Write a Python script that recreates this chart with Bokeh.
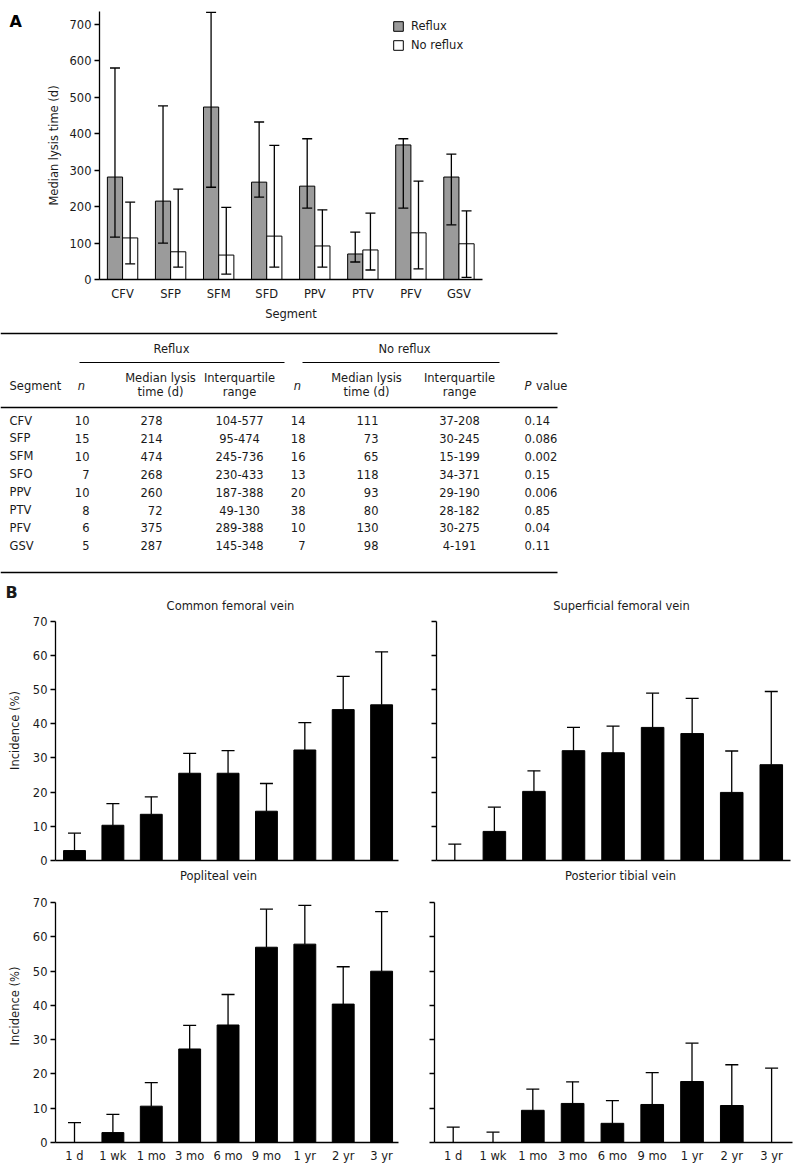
import numpy as np
from bokeh.plotting import figure
from bokeh.models import (ColumnDataSource, Range1d, FixedTicker, Whisker, TeeHead,
                          Label, Legend, LegendItem)
from bokeh.layouts import column, row
from bokeh.embed import file_html
from bokeh.resources import INLINE
from bokeh.core.properties import value

FONT = "DejaVu Sans"
TXT = "#1a1a1a"
FS = "11.5px"

# ---------------- Panel A data ----------------
segments = ["CFV", "SFP", "SFM", "SFD", "PPV", "PTV", "PFV", "GSV"]
reflux_median = [281, 215, 473, 267, 256, 70, 369, 281]
reflux_q1 = [116, 100, 253, 226, 196, 48, 196, 150]
reflux_q3 = [580, 476, 733, 432, 386, 130, 386, 344]
noreflux_median = [114, 76, 67, 119, 92, 81, 128, 98]
noreflux_q1 = [43, 34, 15, 34, 34, 26, 29, 6]
noreflux_q3 = [212, 248, 198, 368, 191, 182, 270, 188]
a_yticks = [0, 100, 200, 300, 400, 500, 600, 700]

# ---------------- Table data ----------------
tab_seg = ["CFV", "SFP", "SFM", "SFO", "PPV", "PTV", "PFV", "GSV"]
tab_n_r = ["10", "15", "10", "7", "10", "8", "6", "5"]
tab_med_r = ["278", "214", "474", "268", "260", "72", "375", "287"]
tab_iqr_r = ["104-577", "95-474", "245-736", "230-433", "187-388", "49-130", "289-388", "145-348"]
tab_n_nr = ["14", "18", "16", "13", "20", "38", "10", "7"]
tab_med_nr = ["111", "73", "65", "118", "93", "80", "130", "98"]
tab_iqr_nr = ["37-208", "30-245", "15-199", "34-371", "29-190", "28-182", "30-275", "4-191"]
tab_p = ["0.14", "0.086", "0.002", "0.15", "0.006", "0.85", "0.04", "0.11"]

# ---------------- Panel B data ----------------
time_labels = ["1 d", "1 wk", "1 mo", "3 mo", "6 mo", "9 mo", "1 yr", "2 yr", "3 yr"]
cfv_inc = [2.9, 10.3, 13.5, 25.5, 25.5, 14.4, 32.3, 44.1, 45.5]
cfv_err = [8.0, 16.6, 18.6, 31.3, 32.1, 22.5, 40.3, 53.8, 61.0]
sfv_inc = [0, 8.5, 20.2, 32.1, 31.5, 38.9, 37.1, 19.9, 28.0]
sfv_err = [4.8, 15.6, 26.2, 38.9, 39.3, 48.9, 47.4, 32.0, 49.4]
pop_inc = [0, 2.9, 10.6, 27.3, 34.3, 57.0, 57.9, 40.4, 50.0]
pop_err = [5.8, 8.2, 17.5, 34.2, 43.2, 68.1, 69.2, 51.3, 67.4]
ptv_inc = [0, 0, 9.4, 11.4, 5.6, 11.1, 17.8, 10.8, 0]
ptv_err = [4.5, 3.0, 15.6, 17.7, 12.2, 20.4, 29.0, 22.7, 21.7]
b_yticks = [0, 10, 20, 30, 40, 50, 60, 70]
B_YMAX = 70


def base_fig(w, h, xr, yr, ml, mr, mt, mb):
    p = figure(width=w, height=h, x_range=Range1d(*xr), y_range=Range1d(*yr),
               min_border_left=ml, min_border_right=mr, min_border_top=mt,
               min_border_bottom=mb, output_backend="svg", toolbar_location=None)
    p.outline_line_color = None
    p.xgrid.visible = False
    p.ygrid.visible = False
    p.background_fill_color = "white"
    p.border_fill_color = "white"
    for ax in (p.xaxis[0], p.yaxis[0]):
        ax.axis_line_color = "black"
        ax.axis_line_width = 1.3
        ax.major_tick_line_color = "black"
        ax.major_tick_line_width = 1.3
        ax.minor_tick_line_color = None
        ax.major_tick_in = 0
        ax.major_label_text_font = FONT
        ax.major_label_text_font_size = FS
        ax.major_label_text_color = TXT
        ax.axis_label_text_font = FONT
        ax.axis_label_text_font_size = FS
        ax.axis_label_text_font_style = "normal"
        ax.axis_label_text_color = TXT
    return p


def blank_fig(w, h, xr, yr, mt=0, mb=0):
    p = figure(width=w, height=h, x_range=Range1d(*xr), y_range=Range1d(*yr),
               min_border_left=0, min_border_right=0, min_border_top=mt,
               min_border_bottom=mb, output_backend="svg", toolbar_location=None,
               x_axis_type=None, y_axis_type=None)
    p.outline_line_color = None
    p.xgrid.visible = False
    p.ygrid.visible = False
    return p


# ======================= Panel A chart =======================
AH = 330
A_ML, A_MR, A_MT, A_MB = 59, 316, 11, 51
pA = base_fig(758, AH, (-0.48, 7.49), (0, 735), A_ML, A_MR, A_MT, A_MB)

idx = np.arange(len(segments))
bw = 0.316
srcA = ColumnDataSource(dict(
    xr=idx - bw / 2, xn=idx + bw / 2,
    rm=reflux_median, rq1=reflux_q1, rq3=reflux_q3,
    nm=noreflux_median, nq1=noreflux_q1, nq3=noreflux_q3))

r1 = pA.vbar(x="xr", top="rm", width=bw, bottom=0, source=srcA,
             fill_color="#9b9b9b", line_color="black", line_width=1)
r2 = pA.vbar(x="xn", top="nm", width=bw, bottom=0, source=srcA,
             fill_color="white", line_color="black", line_width=1)
for base, lo, hi in (("xr", "rq1", "rq3"), ("xn", "nq1", "nq3")):
    pA.add_layout(Whisker(source=srcA, base=base, lower=lo, upper=hi, line_width=1.3,
                          line_color="black", level="overlay",
                          upper_head=TeeHead(size=10, line_width=1.3, line_color="black"),
                          lower_head=TeeHead(size=10, line_width=1.3, line_color="black")))

pA.xaxis.ticker = FixedTicker(ticks=list(idx))
pA.xaxis.major_label_overrides = {int(i): s for i, s in zip(idx, segments)}
pA.xaxis.major_tick_out = 0
pA.xaxis.major_label_standoff = 7
pA.xaxis.axis_label = "Segment"
pA.xaxis.axis_label_standoff = 3
pA.yaxis.ticker = FixedTicker(ticks=a_yticks)
pA.yaxis.major_tick_out = 5
pA.yaxis.major_label_standoff = 3
pA.yaxis.axis_label = "Median lysis time (d)"
pA.yaxis.axis_label_standoff = 6

leg = Legend(items=[LegendItem(label="Reflux", renderers=[r1]),
                    LegendItem(label="No reflux", renderers=[r2])],
             location=(293, 227), border_line_color=None, background_fill_alpha=0,
             padding=0, margin=0, spacing=5, glyph_width=12, glyph_height=12,
             label_height=12, label_standoff=7, label_text_font=FONT,
             label_text_font_size=FS, label_text_color=TXT)
pA.add_layout(leg)

# panel letter "A" (page-pixel coordinates)
pLA = blank_fig(40, AH, (0, 40), (AH - A_MB, A_MT), mt=A_MT, mb=A_MB)
pLA.text(x=[9], y=[21], text=["A"], text_font=value(FONT), text_font_size="16px",
         text_font_style="bold", text_color="black", text_align="left",
         text_baseline="middle")

# ======================= Table (page-pixel coordinates) =======================
T_TOP, T_BOT = 330, 600
pT = blank_fig(798, T_BOT - T_TOP, (0, 798), (T_BOT, T_TOP))

pT.segment(x0=[0, 0, 0], x1=[557, 557, 557], y0=[333, 407, 572], y1=[333, 407, 572],
           line_color="black", line_width=1.4)
pT.segment(x0=[79, 302], x1=[284, 499], y0=[362, 362], y1=[362, 362],
           line_color="black", line_width=1.1)


def ttext(x, y, txt, align="center", style="normal", size=FS):
    pT.text(x=x, y=y, text=txt, text_font=value(FONT), text_font_size=size,
            text_color=TXT, text_align=align, text_baseline="middle",
            text_font_style=style)


ttext([171, 404], [348, 348], ["Reflux", "No reflux"])
ttext([9], [385], ["Segment"], align="left")
ttext([81, 297], [385, 385], ["n", "n"], style="italic")
ttext([160, 239, 366, 459], [377] * 4,
      ["Median lysis", "Interquartile", "Median lysis", "Interquartile"])
ttext([160, 239, 366, 459], [391] * 4, ["time (d)", "range", "time (d)", "range"])
ttext([524], [385], ["P"], align="left", style="italic")
ttext([535.5], [385], ["value"], align="left")

row_y = [420 + 17.9 * i for i in range(len(tab_seg))]
ttext([9] * 8, row_y, tab_seg, align="left")
ttext([89] * 8, row_y, tab_n_r, align="right")
ttext([162] * 8, row_y, tab_med_r, align="right")
ttext([239] * 8, row_y, tab_iqr_r)
ttext([305] * 8, row_y, tab_n_nr, align="right")
ttext([378] * 8, row_y, tab_med_nr, align="right")
ttext([459] * 8, row_y, tab_iqr_nr)
ttext([524] * 8, row_y, tab_p, align="left")

# panel letter "B"
ttext([5], [591.5], ["B"], align="left", style="bold", size="16px")


# ======================= Panel B =======================
def bar_panel(title, inc, err, w, h, xr, ml, mr, mb, px70, ylabels, xlabels,
              title_px, title_py):
    # frame starts at the figure top; y range extended so the title sits in the frame
    fh = h - mb
    per = (fh - px70) / B_YMAX            # pixels per unit
    ytop = fh / per
    p = base_fig(w, h, xr, (0, ytop), ml, mr, 0, mb)
    fw = w - ml - mr
    xs = np.arange(len(time_labels))
    src = ColumnDataSource(dict(x=xs, top=inc, err=err))
    p.vbar(x="x", top="top", width=0.57, bottom=0, source=src,
           fill_color="black", line_color="black", line_width=1)
    p.add_layout(Whisker(source=src, base="x", lower="top", upper="err",
                         line_width=1.3, line_color="black", level="overlay",
                         upper_head=TeeHead(size=13, line_width=1.3, line_color="black"),
                         lower_head=None))
    p.yaxis.bounds = (0, B_YMAX)
    p.yaxis.ticker = FixedTicker(ticks=b_yticks)
    p.yaxis.major_tick_out = 5
    if ylabels:
        p.yaxis.major_label_standoff = 3
        p.yaxis.axis_label = "Incidence (%)"
        p.yaxis.axis_label_standoff = 8
    else:
        p.yaxis.major_label_overrides = {int(t): "" for t in b_yticks}
        p.yaxis.major_label_standoff = 0
    p.xaxis.major_tick_out = 0
    if xlabels:
        p.xaxis.ticker = FixedTicker(ticks=list(xs))
        p.xaxis.major_label_overrides = {int(i): s for i, s in zip(xs, time_labels)}
        p.xaxis.major_label_standoff = 6
    else:
        p.xaxis.ticker = FixedTicker(ticks=[])
        p.xaxis.major_label_standoff = 0
    tx = xr[0] + (title_px - ml) / fw * (xr[1] - xr[0])
    ty = ytop - title_py / per
    p.add_layout(Label(x=tx, y=ty, text=title, text_font=FONT, text_font_size=FS,
                       text_color=TXT, text_align="center", text_baseline="middle"))
    return p


# top row: page y 600..869 ; bottom row: page y 869..1167
R3_TOP, R4_TOP, R4_BOT = 600, 869, 1167
R3H, R4H = R4_TOP - R3_TOP, R4_BOT - R4_TOP
R3_MB = R3H - 260
pB1 = bar_panel("Common femoral vein", cfv_inc, cfv_err, 418, R3H, (-0.495, 8.44),
                55, 20, R3_MB, 620.5 - R3_TOP, True, False, 230, 605.5 - R3_TOP)
pB2 = bar_panel("Superficial femoral vein", sfv_inc, sfv_err, 380, R3H, (-0.463, 8.486),
                18, 8, R3_MB, 620.5 - R3_TOP, False, False, 621 - 418, 605.5 - R3_TOP)
pB3 = bar_panel("Popliteal vein", pop_inc, pop_err, 418, R4H, (-0.495, 8.44),
                55, 20, 25, 902.2 - R4_TOP, True, True, 218, 875.5 - R4_TOP)
pB4 = bar_panel("Posterior tibial vein", ptv_inc, ptv_err, 380, R4H, (-0.47, 8.525),
                16, 6, 25, 902.2 - R4_TOP, False, True, 620 - 418, 875.5 - R4_TOP)

layout = column(row(pLA, pA), row(pT), row(pB1, pB2), row(pB3, pB4))

with open("out.html", "w") as f:
    f.write(file_html(layout, INLINE))
